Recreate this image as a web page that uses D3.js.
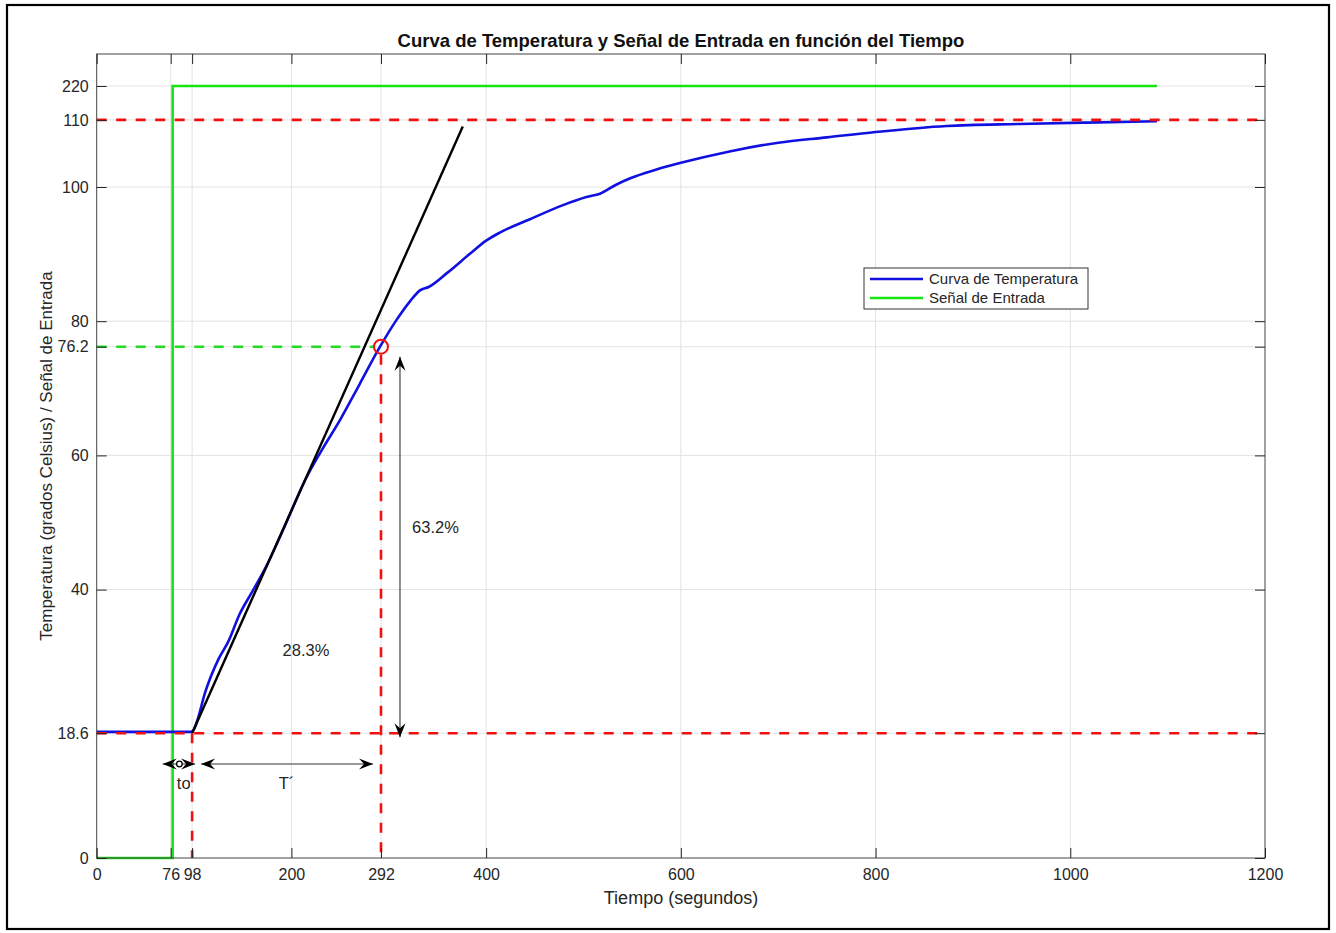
<!DOCTYPE html>
<html>
<head>
<meta charset="utf-8">
<script src="https://cdn.jsdelivr.net/npm/d3@7"></script>
<style>
  html, body { margin: 0; padding: 0; background: #fff; }
  svg { display: block; font-family: "Liberation Sans", Arial, Helvetica, sans-serif; }
</style>
</head>
<body>
<svg id="chart" width="1336" height="933"></svg>
<script>
// Step response of the heater: measured temperature (°C) vs time (s)
const tiempo = [0, 97, 100, 104, 111, 118, 125, 135, 147, 159, 176, 193, 214, 230, 250, 270, 291,
  308, 322, 332, 341, 360, 383, 400, 414, 445, 479, 503, 517, 533, 548, 575, 600, 650, 700,
  750, 800, 873, 948, 1017, 1089];
const temperatura = [18.8, 18.8, 19.2, 20.8, 24.5, 27.3, 29.6, 32.2, 36.4, 39.5, 44.0, 49.4, 56.3,
  60.5, 65.3, 70.6, 76.2, 80.2, 83.0, 84.6, 85.1, 87.2, 90.0, 92.0, 93.2, 95.2, 97.3, 98.5, 99.0,
  100.3, 101.3, 102.6, 103.6, 105.3, 106.6, 107.4, 108.2, 109.1, 109.4, 109.6, 109.8];

// Input signal (step to 220)
const senalTiempo = [0, 78, 78, 1089];
const senalValor = [0, 0, 220, 220];

// Tangent at the inflection point
const tangenteTiempo = [98, 376];
const tangenteValor = [18.6, 109];

// Identification values
const tiempoMuerto = 98;       // end of dead time
const tiempoEscalon = 76;      // step instant
const tiempo632 = 292;         // time at 63.2 %
const valorInicial = 18.6;
const valorFinal = 110;
const valor632 = 76.2;

// Axis ticks
const xTicks = [0, 76, 98, 200, 292, 400, 600, 800, 1000, 1200];
const yTicks = [0, 18.6, 40, 60, 76.2, 80, 100, 110, 220];

const svg = d3.select("#chart");

// Outer frame
svg.append("rect").attr("x", 7).attr("y", 5).attr("width", 1322).attr("height", 924)
  .attr("fill", "#fff").attr("stroke", "#000").attr("stroke-width", 2.2);

const pLeft = 96.7, pRight = 1265, pTop = 54, pBottom = 858;

const x = d3.scaleLinear().domain([0, 1200]).range([pLeft, pRight]);
// Temperature part is linear up to 110; the 220 input level is drawn compressed near the top
const y = d3.scaleLinear().domain([0, 110, 220]).range([pBottom, pBottom - 110 * 6.71, 86]);

const gridColor = "#e3e3e3";
const axisColor = "#262626";

// Grid
const grid = svg.append("g");
grid.selectAll("line.gx").data(xTicks.filter(d => d > 0 && d < 1200)).join("line")
  .attr("x1", d => x(d)).attr("x2", d => x(d)).attr("y1", pTop).attr("y2", pBottom)
  .attr("stroke", gridColor).attr("stroke-width", 1);
grid.selectAll("line.gy").data(yTicks.filter(d => d > 0)).join("line")
  .attr("x1", pLeft).attr("x2", pRight).attr("y1", d => y(d)).attr("y2", d => y(d))
  .attr("stroke", gridColor).attr("stroke-width", 1);

const line = d3.line().x(d => x(d[0])).y(d => y(d[1]));

// Input signal
svg.append("path").datum(d3.zip(senalTiempo, senalValor)).attr("d", line)
  .attr("fill", "none").attr("stroke", "#14e614").attr("stroke-width", 2.6);

// Temperature curve
svg.append("path").datum(d3.zip(tiempo, temperatura))
  .attr("d", line.curve(d3.curveMonotoneX))
  .attr("fill", "none").attr("stroke", "#1010e0").attr("stroke-width", 2.6);
line.curve(d3.curveLinear);

// Tangent
svg.append("path").datum(d3.zip(tangenteTiempo, tangenteValor)).attr("d", line)
  .attr("fill", "none").attr("stroke", "#000").attr("stroke-width", 2.4);

const dash = "10,9.5";
const red = "#f01010";
// Reference levels
[valorFinal, valorInicial].forEach(v => {
  svg.append("line").attr("x1", x(0)).attr("x2", x(1200)).attr("y1", y(v)).attr("y2", y(v))
    .attr("stroke", red).attr("stroke-width", 2.6).attr("stroke-dasharray", dash);
});
// Vertical markers
svg.append("line").attr("x1", x(tiempoMuerto)).attr("x2", x(tiempoMuerto))
  .attr("y1", y(valorInicial)).attr("y2", y(0))
  .attr("stroke", red).attr("stroke-width", 2.6).attr("stroke-dasharray", dash);
svg.append("line").attr("x1", x(tiempo632)).attr("x2", x(tiempo632))
  .attr("y1", y(valor632) + 8).attr("y2", y(0))
  .attr("stroke", red).attr("stroke-width", 2.6).attr("stroke-dasharray", dash);
// 63.2 % level
svg.append("line").attr("x1", x(0)).attr("x2", x(tiempo632) - 7).attr("y1", y(valor632)).attr("y2", y(valor632))
  .attr("stroke", "#22dd22").attr("stroke-width", 2.6).attr("stroke-dasharray", dash);
svg.append("circle").attr("cx", x(tiempo632)).attr("cy", y(valor632)).attr("r", 7)
  .attr("fill", "none").attr("stroke", red).attr("stroke-width", 2);

// Axes box
svg.append("rect").attr("x", pLeft).attr("y", pTop).attr("width", pRight - pLeft).attr("height", pBottom - pTop)
  .attr("fill", "none").attr("stroke", "#444").attr("stroke-width", 1);

// Axes (ticks inward)
const tickFont = "16px";
const xAxis = svg.append("g").attr("transform", `translate(0,${pBottom})`)
  .call(d3.axisBottom(x).tickValues(xTicks).tickSize(-10).tickPadding(11).tickFormat(d3.format("d")));
const xAxisTop = svg.append("g").attr("transform", `translate(0,${pTop})`)
  .call(d3.axisTop(x).tickValues(xTicks).tickSize(-10).tickFormat(""));
const yAxis = svg.append("g").attr("transform", `translate(${pLeft},0)`)
  .call(d3.axisLeft(y).tickValues(yTicks).tickSize(-10).tickPadding(8).tickFormat(d => d));
const yAxisRight = svg.append("g").attr("transform", `translate(${pRight},0)`)
  .call(d3.axisRight(y).tickValues(yTicks).tickSize(-10).tickFormat(""));
[xAxis, xAxisTop, yAxis, yAxisRight].forEach(g => {
  g.select(".domain").remove();
  g.selectAll(".tick line").attr("stroke", axisColor);
  g.selectAll("text").attr("fill", "#262626").style("font-size", tickFont)
    .style("font-family", "'Liberation Sans', Arial, sans-serif");
});

// Title and labels
svg.append("text").attr("x", 681).attr("y", 47).attr("text-anchor", "middle")
  .style("font-size", "18.5px").style("font-weight", "bold").attr("fill", "#111")
  .text("Curva de Temperatura y Señal de Entrada en función del Tiempo");
svg.append("text").attr("x", 681).attr("y", 904).attr("text-anchor", "middle")
  .style("font-size", "18px").attr("fill", "#262626").text("Tiempo (segundos)");
svg.append("text").attr("transform", "translate(52,456) rotate(-90)").attr("text-anchor", "middle")
  .style("font-size", "17px").attr("fill", "#262626")
  .text("Temperatura (grados Celsius) / Señal de Entrada");

// Arrow markers
const defs = svg.append("defs");
defs.append("marker").attr("id", "head").attr("viewBox", "-15 -7 16 14")
  .attr("refX", 0).attr("refY", 0).attr("markerWidth", 16).attr("markerHeight", 14)
  .attr("markerUnits", "userSpaceOnUse").attr("orient", "auto-start-reverse")
  .append("path").attr("d", "M0,0 L-14,-5.5 L-9,0 L-14,5.5 Z").attr("fill", "#000");

function dobleFlecha(x1, y1, x2, y2) {
  svg.append("line").attr("x1", x1).attr("y1", y1).attr("x2", x2).attr("y2", y2)
    .attr("stroke", "#333").attr("stroke-width", 1.1)
    .attr("marker-start", "url(#head)").attr("marker-end", "url(#head)");
}
const yFlechas = 764;
// Dead time
dobleFlecha(x(tiempoEscalon) - 8, yFlechas, x(tiempoMuerto) + 3, yFlechas);
svg.append("circle").attr("cx", (x(tiempoEscalon) + x(tiempoMuerto)) / 2 - 2).attr("cy", yFlechas).attr("r", 2.8)
  .attr("fill", "#fff").attr("stroke", "#000").attr("stroke-width", 1.3);
// Time constant
dobleFlecha(x(tiempoMuerto) + 9, yFlechas, x(tiempo632) - 8, yFlechas);
// 63.2 % rise
dobleFlecha(x(tiempo632) + 19, y(valor632) + 10, x(tiempo632) + 19, y(valorInicial) + 4);

const ann = (tx, ty, s) => svg.append("text").attr("x", tx).attr("y", ty).attr("text-anchor", "middle")
  .style("font-size", "16.5px").attr("fill", "#262626").text(s);
ann(x(76) + 13, 789, "to");
ann(x(195), 789, "T´");
ann(x(348), 533, "63.2%");
ann(x(215), 656, "28.3%");

// Legend
const lg = svg.append("g").attr("transform", "translate(864,268)");
lg.append("rect").attr("width", 224).attr("height", 41).attr("fill", "#fff")
  .attr("stroke", "#333").attr("stroke-width", 1);
const items = [["Curva de Temperatura", "#1010e0"], ["Señal de Entrada", "#14e614"]];
items.forEach(([label, c], i) => {
  const yy = 11 + i * 19;
  lg.append("line").attr("x1", 6).attr("x2", 59).attr("y1", yy).attr("y2", yy)
    .attr("stroke", c).attr("stroke-width", 2.6);
  lg.append("text").attr("x", 65).attr("y", yy + 5).style("font-size", "15px")
    .attr("fill", "#262626").text(label);
});
</script>
</body>
</html>
